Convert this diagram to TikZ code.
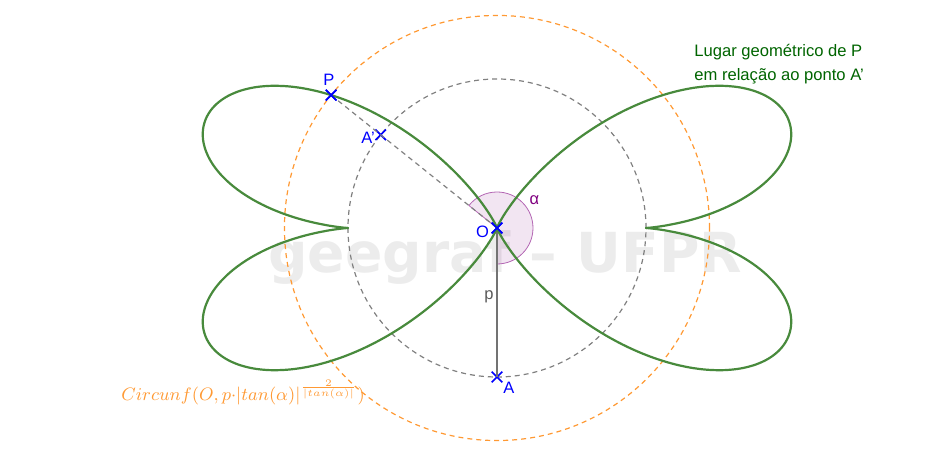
\documentclass[tikz,border=0pt]{standalone}
\usepackage{fontspec}
\setmainfont{Liberation Sans}
\newfontfamily\wmfont{DejaVu Sans}
\usetikzlibrary{shapes.misc}
\definecolor{locusgreen}{RGB}{72,138,60}
\definecolor{txtgreen}{RGB}{0,100,0}
\definecolor{orng}{RGB}{255,153,51}
\definecolor{ptblue}{RGB}{0,0,255}
\definecolor{angpurple}{RGB}{128,0,128}
\definecolor{wmgray}{RGB}{236,236,236}
\definecolor{dgray}{RGB}{128,128,128}
\tikzset{
  locus/.style={locusgreen, line width=1.1pt, line join=round, line cap=round},
  orangecirc/.style={orng, line width=0.6pt, dash pattern=on 2.5pt off 2pt},
  graycirc/.style={dgray, line width=0.6pt, dash pattern=on 2.5pt off 2pt},
  pt/.style={cross out, draw=ptblue, line width=0.8pt, minimum size=4.5pt, inner sep=0pt},
  ptlbl/.style={ptblue, font=\fontsize{8.25}{10}\selectfont, inner sep=0pt},
  greentxt/.style={txtgreen, font=\fontsize{8.3}{10}\selectfont, inner sep=0pt, anchor=base west},
}
\begin{document}
\begin{tikzpicture}[x=0.5pt,y=0.5pt]
\useasboundingbox (-497,-221) rectangle (453,228);
% watermark
\node[wmgray, font=\wmfont\bfseries\fontsize{27.6}{30}\selectfont, inner sep=0pt, anchor=base west] (wm) at (-229,-45) {geegraf – UFPR};
% parameters
\pgfmathsetmacro\aP{141.3}
\pgfmathsetmacro\tP{tan(\aP-90)}
\pgfmathsetmacro\rP{149*exp(2/\tP*ln(\tP))}
% points
\coordinate (Oc) at (0,0);
% circles
\draw[orangecirc] (Oc) circle[radius=\rP];
\draw[graycirc] (Oc) circle[radius=149];
% angle sector
\fill[angpurple, fill opacity=0.1] (Oc) -- (-90:36) arc[start angle=-90, end angle=\aP, radius=36] -- cycle;
\draw[angpurple!60, line width=0.4pt] (Oc) -- (-90:36) arc[start angle=-90, end angle=\aP, radius=36] -- cycle;
\node[angpurple, font=\fontsize{8.25}{10}\selectfont, inner sep=0pt] (alab) at (37.5,28) {α};
% nodes
\node[pt] (O) at (0,0) {};
\node[pt] (A) at (-90:149) {};
\node[pt] (P) at (\aP:\rP) {};
\node[pt] (Ap) at (\aP:149) {};
% segments
\draw[dgray, line width=0.6pt, dash pattern=on 2.5pt off 2pt] (P.center) -- (O.center);
\draw[black!55, line width=0.6pt] (O.center) -- (A.center);
\node[black!65, font=\fontsize{8.25}{10}\selectfont, inner sep=0pt] (plab) at (-8,-69) {p};
% locus
\foreach \sx/\sy in {1/1,1/-1,-1/1,-1/-1}{
  \draw[locus] plot[domain=0.005:1.8, samples=300, variable=\s]
    ({\sx*149*exp(-4*\s*\s*ln(\s))/sqrt(1+\s*\s*\s*\s)},
     {\sy*149*exp(-4*\s*\s*ln(\s))*\s*\s/sqrt(1+\s*\s*\s*\s)});
}
% redraw points on top
\node[pt] at (O.center) {};
\node[pt] at (P.center) {};
% labels
\node[ptlbl] (Plab) at (-168,148) {P};
\node[ptlbl] (Aplab) at (-129,90.5) {A'};
\node[ptlbl] (Olab) at (-14.5,-4) {O};
\node[ptlbl] (Alab) at (12,-159.5) {A};
\node[greentxt] (g1) at (197,171) {Lugar geométrico de P};
\node[greentxt] (g2) at (197,147) {em relação ao ponto A'};
\node[orng, font=\fontsize{8.8}{11}\selectfont, inner sep=0pt, anchor=base west] (form) at (-376,-173)
  {$Circunf(O,p{\cdot}|tan(\alpha)|^{\frac{2}{|tan(\alpha)|}})$};
\end{tikzpicture}
\end{document}
